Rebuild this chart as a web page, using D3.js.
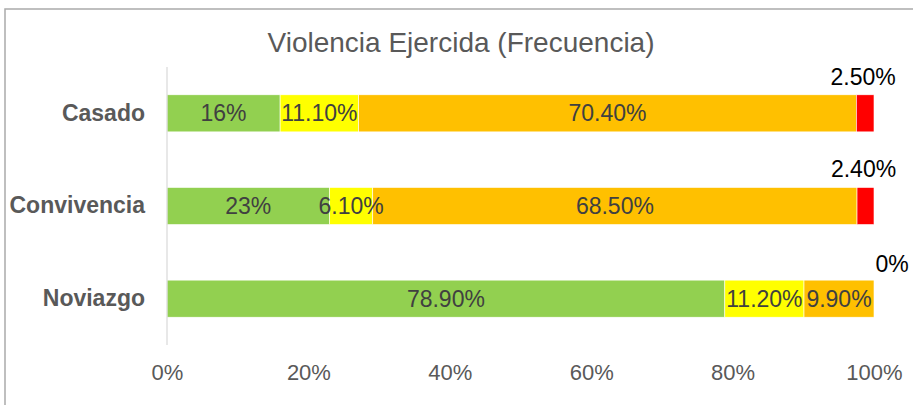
<!DOCTYPE html>
<html>
<head>
<meta charset="utf-8">
<script src="https://cdn.jsdelivr.net/npm/d3@7"></script>
<style>
  html, body { margin: 0; padding: 0; background: #fff; }
  svg { display: block; font-family: "Liberation Sans", Arial, sans-serif; }
</style>
</head>
<body>
<svg id="chart" width="913" height="409"></svg>
<script>
// ---- data ----
const categories = ["Casado", "Convivencia", "Noviazgo"];
const seriesNames = ["Nunca", "Casi nunca", "A veces", "Siempre"];
const seriesColors = ["#92D050", "#FFFF00", "#FFC000", "#FF0000"];
const valuesNunca = [16, 23, 78.9];
const valuesCasiNunca = [11.1, 6.1, 11.2];
const valuesAVeces = [70.4, 68.5, 9.9];
const valuesSiempre = [2.5, 2.4, 0];
const labelsNunca = ["16%", "23%", "78.90%"];
const labelsCasiNunca = ["11.10%", "6.10%", "11.20%"];
const labelsAVeces = ["70.40%", "68.50%", "9.90%"];
const labelsSiempre = ["2.50%", "2.40%", "0%"];
const tickValues = [0, 20, 40, 60, 80, 100];
const tickLabels = ["0%", "20%", "40%", "60%", "80%", "100%"];
const title = "Violencia Ejercida (Frecuencia)";

// ---- build ----
const seriesValues = [valuesNunca, valuesCasiNunca, valuesAVeces, valuesSiempre];
const seriesLabels = [labelsNunca, labelsCasiNunca, labelsAVeces, labelsSiempre];
const rows = categories.map((c, i) => {
  const r = { category: c };
  seriesNames.forEach((s, j) => { r[s] = seriesValues[j][i]; });
  return r;
});
const stacked = d3.stack().keys(seriesNames)(rows);

const svg = d3.select("#chart");

// chart border (top and left visible)
svg.append("path")
  .attr("d", "M5,405 L5,9 L913,9")
  .attr("fill", "none").attr("stroke", "#ababab").attr("stroke-width", 1.5);

const x = d3.scaleLinear().domain([0, 100]).range([167, 874]);
const y = d3.scaleBand().domain(categories).range([67, 345])
  .paddingInner(0.6).paddingOuter(0.3);

// title
svg.append("text")
  .attr("x", 461).attr("y", 52)
  .attr("text-anchor", "middle")
  .attr("font-size", 28)
  .attr("fill", "#595959")
  .text(title);

// bars
const layers = svg.append("g").selectAll("g")
  .data(stacked).join("g")
  .attr("fill", (d, i) => seriesColors[i]);

layers.selectAll("rect")
  .data(d => d.map(p => ({ p, cat: p.data.category })))
  .join("rect")
  .attr("x", d => x(d.p[0]))
  .attr("y", d => y(d.cat))
  .attr("width", d => x(d.p[1]) - x(d.p[0]))
  .attr("height", y.bandwidth())
  .attr("stroke", "#ffffff").attr("stroke-width", 0.6);

// axis line (category axis)
svg.append("line")
  .attr("x1", x(0)).attr("x2", x(0))
  .attr("y1", 67).attr("y2", 345)
  .attr("stroke", "#d9d9d9").attr("stroke-width", 1.2);

// category labels
const yAxis = d3.axisLeft(y).tickSize(0).tickPadding(22);
const gy = svg.append("g").attr("transform", `translate(${x(0)},0)`).call(yAxis);
gy.select(".domain").remove();
gy.selectAll("text")
  .attr("font-family", "'Liberation Sans', Arial, sans-serif")
  .attr("font-size", 23).attr("font-weight", "bold").attr("fill", "#595959");

// value axis ticks
const xAxis = d3.axisBottom(x).tickValues(tickValues)
  .tickFormat((d, i) => tickLabels[i]).tickSize(0).tickPadding(0);
const gx = svg.append("g").attr("transform", "translate(0,364)").call(xAxis);
gx.select(".domain").remove();
gx.selectAll("text")
  .attr("font-family", "'Liberation Sans', Arial, sans-serif")
  .attr("font-size", 22).attr("fill", "#595959");

// data labels
stacked.forEach((layer, j) => {
  const last = j === stacked.length - 1;
  layer.forEach((p, i) => {
    const cat = p.data.category;
    const cx = (x(p[0]) + x(p[1])) / 2;
    const t = svg.append("text")
      .attr("text-anchor", "middle")
      .attr("font-size", 23)
      .text(seriesLabels[j][i]);
    if (last) {
      const dx = (p[1] - p[0]) === 0 ? 18 : -2;
      t.attr("x", cx + dx)
       .attr("y", y(cat) - ((p[1] - p[0]) === 0 ? 8 : 10))
       .attr("fill", "#000000");
    } else {
      t.attr("x", cx)
       .attr("y", y(cat) + y.bandwidth() / 2)
       .attr("dy", "0.35em")
       .attr("fill", "#404040");
    }
  });
});
</script>
</body>
</html>
